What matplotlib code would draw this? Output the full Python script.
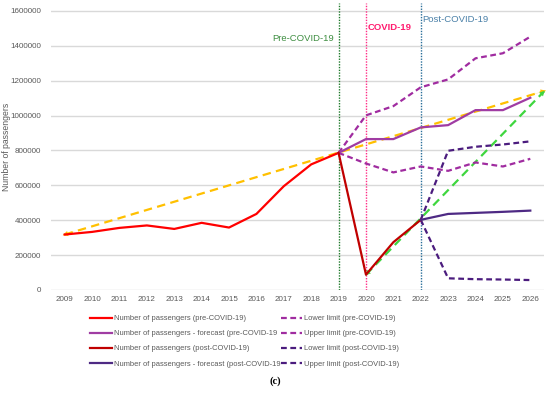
import matplotlib

matplotlib.use("Agg")
import matplotlib.pyplot as plt
import numpy as np

plt.rcParams["font.family"] = ["Liberation Sans", "DejaVu Sans"]

# passenger data
years_pre = list(range(2009, 2020))
passengers_pre = [318000, 333000, 356000, 370000, 350000, 385000, 358000, 436000,
                  595000, 720000, 786000]

years_fc_pre = list(range(2019, 2027))
forecast_pre = [786000, 865000, 865000, 932000, 945000, 1031000, 1031000, 1102000]
lower_pre = [786000, 725000, 674000, 708000, 683000, 731000, 708000, 752000]
upper_pre = [786000, 1001000, 1054000, 1162000, 1207000, 1328000, 1357000, 1452000]

years_post = [2019, 2020, 2021, 2022]
passengers_post = [786000, 88000, 274000, 402000]

years_fc_post = list(range(2022, 2027))
forecast_post = [402000, 436000, 442000, 448000, 455000]
lower_post = [402000, 67000, 62000, 60000, 57000]
upper_post = [402000, 798000, 821000, 834000, 852000]

# trend arrows
trend_pre_x = [2009, 2026.5]
trend_pre_y = [318000, 1140000]
trend_post_x = [2020, 2026.5]
trend_post_y = [88000, 1138000]

periods = [(2019, "Pre-COVID-19"), (2020, "COVID-19"), (2022, "Post-COVID-19")]

all_years = list(range(2009, 2027))
y_ticks = list(range(0, 1600001, 200000))

fig = plt.figure(figsize=(5.5, 3.95), dpi=100)
ax = fig.add_axes([51 / 550, 1 - 290 / 395, (544 - 51) / 550, 287 / 395])

grid_col = "#d9d9d9"
tick_col = "#595959"

for t in y_ticks:
    ax.axhline(t, color=grid_col, lw=1.0, zorder=0)

red = "#ff0000"
dark_red = "#c00000"
purple = "#a03ca3"
purple_dash = "#a02ca0"
violet = "#4e2a84"
violet_dash = "#4b1c7e"
yellow = "#ffc000"
green = "#3ed63e"

short_dash = (0, (2.6, 1.6))
long_dash = (0, (3.8, 2.4))

ax.plot(trend_pre_x, trend_pre_y, color=yellow, lw=1.6, ls=long_dash, zorder=3,
        clip_on=False)
ax.plot(trend_post_x, trend_post_y, color=green, lw=1.6, ls=long_dash, zorder=3,
        clip_on=False)


def arrow_head(x, y, color, at_end=True):
    # small solid head on the end of a dashed trend line
    i, j = (1, 0) if at_end else (0, 1)
    dx = x[i] - x[j]
    dy = y[i] - y[j]
    ax.annotate("", xy=(x[i] + dx * 0.004, y[i] + dy * 0.004),
                xytext=(x[i] - dx * 0.02, y[i] - dy * 0.02),
                arrowprops=dict(arrowstyle="-|>", color=color, lw=0.1,
                                mutation_scale=9, shrinkA=0, shrinkB=0),
                annotation_clip=False, zorder=4)


arrow_head(trend_pre_x, trend_pre_y, yellow, True)
arrow_head(trend_pre_x, trend_pre_y, yellow, False)
arrow_head(trend_post_x, trend_post_y, green, True)
arrow_head(trend_post_x, trend_post_y, green, False)

ax.plot(years_pre, passengers_pre, color=red, lw=1.6, zorder=5,
        label="Number of passengers (pre-COVID-19)")
ax.plot(years_fc_pre, forecast_pre, color=purple, lw=1.6, zorder=5,
        label="Number of passengers - forecast (pre-COVID-19")
ax.plot(years_post, passengers_post, color=dark_red, lw=1.6, zorder=5,
        label="Number of passengers (post-COVID-19)")
ax.plot(years_fc_post, forecast_post, color=violet, lw=1.6, zorder=5,
        label="Number of passengers - forecast (post-COVID-19")
ax.plot(years_fc_pre, lower_pre, color=purple_dash, lw=1.6, ls=short_dash, zorder=4,
        label="Lower limit (pre-COVID-19)")
ax.plot(years_fc_pre, upper_pre, color=purple_dash, lw=1.6, ls=short_dash, zorder=4,
        label="Upper limit (pre-COVID-19)")
ax.plot(years_fc_post, lower_post, color=violet_dash, lw=1.6, ls=short_dash, zorder=4,
        label="Lower limit (post-COVID-19)")
ax.plot(years_fc_post, upper_post, color=violet_dash, lw=1.6, ls=short_dash, zorder=4,
        label="Upper limit (post-COVID-19)")

# period markers
line_cols = ["#1e7a2a", "#ff2d86", "#2a6f9a"]
text_cols = ["#3e8e41", "#ff1a6e", "#4a80a8"]
text_pos = [(-1.28, 1444000, "normal"), (0.88, 1505000, "bold"), (1.25, 1550000, "normal")]
for (yr, name), lc, tc, (dx, ty, fw) in zip(periods, line_cols, text_cols, text_pos):
    ax.axvline(yr, color=lc, lw=1.0, ls=(0, (1, 1)), zorder=2)
    ax.text(yr + dx, ty, name, color=tc, fontsize=6.8, fontweight=fw,
            ha="center", va="center")

ax.set_xlim(2008.5, 2026.5)
ax.set_ylim(0, 1645000)
ax.set_xticks(all_years)
ax.set_xticklabels([str(y) for y in all_years])
ax.set_yticks(y_ticks)
ax.set_yticklabels([str(t) for t in y_ticks])
ax.tick_params(axis="both", length=0, labelsize=5.8, labelcolor=tick_col)
ax.tick_params(axis="y", pad=7)
ax.tick_params(axis="x", pad=4)
for s in ax.spines.values():
    s.set_visible(False)
ax.set_ylabel("Number of passengers", fontsize=6.2, color=tick_col)
ax.yaxis.set_label_coords((11 - 51) / 493, 0.5)

handles, labels = ax.get_legend_handles_labels()
fig.legend(handles, labels, ncol=2, loc="upper left",
           bbox_to_anchor=(90 / 550, 1 - 315 / 395), frameon=False,
           fontsize=5.4, handlelength=2.9, handletextpad=0.25, columnspacing=0.05,
           labelspacing=1.05, borderpad=0, borderaxespad=0, labelcolor=tick_col)

fig.text(0.5, 1 - 381 / 395, "(c)", ha="center", va="center", fontsize=7.5,
         fontweight="bold", family="Liberation Serif")

fig.savefig("out.png", dpi=100)
